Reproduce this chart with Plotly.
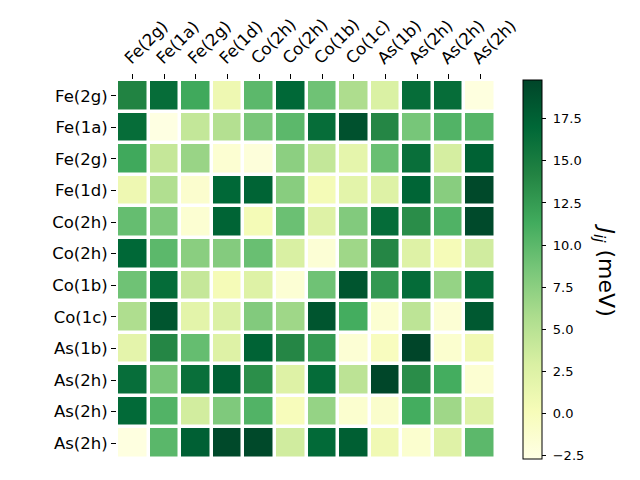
import plotly.graph_objects as go

labels = ["Fe(2g)", "Fe(1a)", "Fe(2g)", "Fe(1d)", "Co(2h)", "Co(2h)",
          "Co(1b)", "Co(1c)", "As(1b)", "As(2h)", "As(2h)", "As(2h)"]

row_fe2g_a = [14.3, 16.5, 11.5, 1.0, 10.0, 17.0, 9.0, 5.7, 2.8, 16.5, 16.5, -2.3]
row_fe1a = [16.5, -2.5, 4.3, 5.3, 8.5, 10.0, 16.5, 18.8, 14.0, 8.6, 10.5, 10.3]
row_fe2g_b = [11.5, 4.2, 6.8, -1.5, -2.0, 7.5, 4.3, 1.8, 9.3, 16.3, 3.2, 17.5]
row_fe1d = [1.0, 5.5, -1.2, 17.0, 17.3, 7.7, 0.4, 2.0, 2.5, 17.2, 7.7, 19.5]
row_co2h_a = [9.5, 8.2, -1.5, 17.3, 0.4, 9.2, 2.5, 8.0, 16.6, 13.5, 10.6, 19.4]
row_co2h_b = [17.0, 10.0, 7.6, 7.9, 9.3, 2.9, -1.7, 6.5, 14.0, 2.5, 0.3, 3.5]
row_co1b = [9.0, 16.6, 4.2, 0.3, 2.5, -1.6, 9.0, 18.5, 12.7, 16.6, 7.0, 16.6]
row_co1c = [5.6, 18.5, 2.0, 2.7, 8.0, 6.5, 18.5, 11.2, -1.5, 4.7, -1.6, 18.2]
row_as1b = [1.9, 14.0, 9.5, 2.5, 17.4, 14.0, 12.6, -1.6, -0.3, 19.8, -1.3, 0.7]
row_as2h_a = [16.4, 8.5, 16.3, 17.6, 13.4, 2.5, 16.6, 4.8, 19.7, 13.5, 11.2, -1.5]
row_as2h_b = [16.8, 10.5, 3.4, 8.2, 10.5, 0.0, 7.0, -1.3, -1.1, 11.2, 6.5, 2.5]
row_as2h_c = [-2.4, 10.1, 17.6, 19.5, 19.5, 3.5, 16.8, 17.7, 0.8, -1.3, 2.4, 10.0]

z = [row_fe2g_a, row_fe1a, row_fe2g_b, row_fe1d, row_co2h_a, row_co2h_b,
     row_co1b, row_co1c, row_as1b, row_as2h_a, row_as2h_b, row_as2h_c]

zmin, zmax = -2.7, 19.8
cbar_ticks = [-2.5, 0.0, 2.5, 5.0, 7.5, 10.0, 12.5, 15.0, 17.5]

ylgn = ["#ffffe5", "#f7fcb9", "#d9f0a3", "#addd8e", "#78c679",
        "#41ab5d", "#238443", "#006837", "#004529"]
colorscale = [[i / (len(ylgn) - 1), c] for i, c in enumerate(ylgn)]

idx = list(range(len(labels)))

def fmt(t):
    s = f"{abs(t):.1f}"
    return "\u00a0" + ("\u2212" + s if t < 0 else s)

fig = go.Figure(go.Heatmap(
    z=z, x=idx, y=idx,
    zmin=zmin, zmax=zmax,
    colorscale=colorscale,
    xgap=3.5, ygap=3.5,
    colorbar=dict(
        x=1.071, xanchor="left", xref="paper", xpad=0, ypad=0,
        y=0.5, yanchor="middle", len=1.0, lenmode="fraction",
        thickness=19, outlinewidth=1, outlinecolor="black",
        ticks="outside", ticklen=4, tickcolor="black",
        tickvals=cbar_ticks,
        ticktext=[fmt(t) for t in cbar_ticks],
        tickfont=dict(size=13, color="black"),
    ),
    hoverongaps=False,
))

fig.update_layout(
    width=632, height=472,
    margin=dict(l=109, r=144, t=72, b=21, autoexpand=False),
    plot_bgcolor="white", paper_bgcolor="white",
    font=dict(family="DejaVu Sans", color="black"),
    xaxis=dict(
        side="top", tickvals=idx, ticktext=labels, tickangle=-45,
        ticks="outside", ticklen=5, tickcolor="black", automargin=False,
        ticklabelshift=-7,
        showgrid=False, zeroline=False, showline=False,
        tickfont=dict(size=16.5), range=[-0.5, len(labels) - 0.5],
    ),
    yaxis=dict(
        tickvals=idx, ticktext=labels, autorange=False, automargin=False,
        range=[len(labels) - 0.5, -0.5],
        ticks="outside", ticklen=5, tickcolor="black",
        showgrid=False, zeroline=False, showline=False,
        tickfont=dict(size=16.5),
    ),
    annotations=[dict(
        text="<i>J<sub>ij</sub></i> (meV)", textangle=90,
        xref="paper", yref="paper", x=1.285, y=0.5,
        xanchor="center", yanchor="middle", showarrow=False,
        font=dict(size=22, color="black"),
    )],
)

fig.write_html("out.html")
